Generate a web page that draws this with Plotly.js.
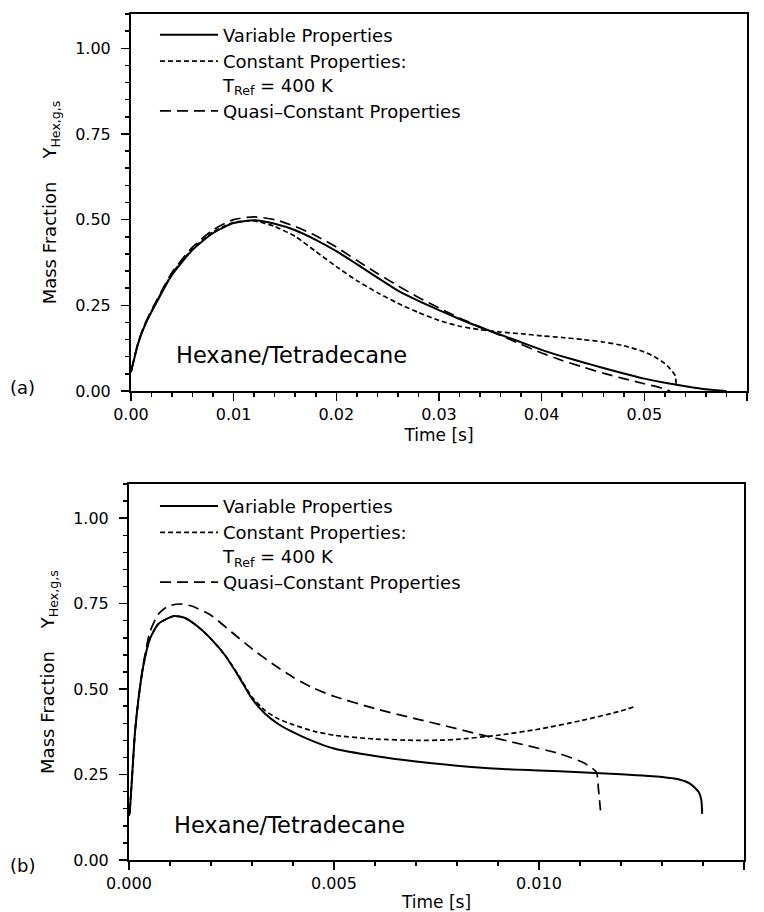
<!DOCTYPE html>
<html>
<head>
<meta charset="utf-8">
<script src="https://cdn.plot.ly/plotly-3.0.1.min.js"></script>
<style>html,body{margin:0;padding:0;background:#fff;}#chart{width:764px;height:912px;}</style>
</head>
<body>
<div id="chart"></div>
<script>
// ---- Panel (a): Hexane/Tetradecane, time in s ----
const tA_var = [0, 0.0007, 0.0013, 0.002, 0.0027, 0.004, 0.006, 0.008, 0.010, 0.012, 0.014, 0.016, 0.018, 0.020, 0.022, 0.024, 0.026, 0.028, 0.030, 0.032, 0.034, 0.036, 0.038, 0.040, 0.042, 0.044, 0.046, 0.048, 0.050, 0.052, 0.054, 0.056, 0.058];
const yA_var = [0.055, 0.139, 0.188, 0.231, 0.270, 0.339, 0.412, 0.461, 0.490, 0.498, 0.488, 0.469, 0.441, 0.408, 0.370, 0.331, 0.293, 0.263, 0.236, 0.210, 0.186, 0.164, 0.142, 0.120, 0.101, 0.084, 0.067, 0.051, 0.036, 0.024, 0.014, 0.005, 0.0];

const tA_const = [0, 0.0007, 0.0013, 0.002, 0.0027, 0.004, 0.006, 0.008, 0.010, 0.012, 0.014, 0.016, 0.018, 0.020, 0.022, 0.024, 0.026, 0.028, 0.030, 0.032, 0.034, 0.036, 0.038, 0.040, 0.042, 0.044, 0.046, 0.048, 0.050, 0.051, 0.052, 0.0525, 0.053, 0.0531];
const yA_const = [0.055, 0.140, 0.190, 0.233, 0.273, 0.342, 0.415, 0.464, 0.492, 0.496, 0.480, 0.451, 0.407, 0.363, 0.322, 0.287, 0.256, 0.229, 0.206, 0.189, 0.179, 0.172, 0.167, 0.161, 0.156, 0.150, 0.143, 0.132, 0.114, 0.100, 0.080, 0.065, 0.045, 0.020];

const tA_quasi = [0, 0.0007, 0.0013, 0.002, 0.0027, 0.004, 0.006, 0.008, 0.010, 0.012, 0.014, 0.016, 0.018, 0.020, 0.022, 0.024, 0.026, 0.028, 0.030, 0.032, 0.034, 0.036, 0.038, 0.040, 0.042, 0.044, 0.046, 0.048, 0.050, 0.052, 0.0525];
const yA_quasi = [0.055, 0.142, 0.192, 0.236, 0.276, 0.346, 0.420, 0.470, 0.500, 0.508, 0.500, 0.480, 0.453, 0.420, 0.381, 0.343, 0.307, 0.273, 0.242, 0.213, 0.187, 0.162, 0.136, 0.111, 0.089, 0.070, 0.052, 0.036, 0.021, 0.006, 0.0];

// ---- Panel (b) ----
const tB_var = [0, 0.000016, 0.000146, 0.00023, 0.00035, 0.00051, 0.00072, 0.0011, 0.00137, 0.00169, 0.002, 0.00234, 0.00267, 0.003, 0.00332, 0.00364, 0.004, 0.0045, 0.005, 0.006, 0.007, 0.008, 0.009, 0.010, 0.011, 0.012, 0.013, 0.0134, 0.0137, 0.0139, 0.01396, 0.01398];
const yB_var = [0.13, 0.14, 0.374, 0.470, 0.569, 0.647, 0.691, 0.714, 0.708, 0.682, 0.647, 0.599, 0.538, 0.472, 0.428, 0.398, 0.374, 0.347, 0.326, 0.304, 0.288, 0.276, 0.267, 0.262, 0.257, 0.251, 0.243, 0.236, 0.222, 0.198, 0.175, 0.135];

const tB_const = [0, 0.000016, 0.000146, 0.00023, 0.00035, 0.00051, 0.00072, 0.0011, 0.00137, 0.00169, 0.002, 0.00234, 0.00267, 0.003, 0.00332, 0.00364, 0.004, 0.0045, 0.005, 0.006, 0.007, 0.0077, 0.008, 0.009, 0.010, 0.011, 0.012, 0.01234];
const yB_const = [0.13, 0.14, 0.374, 0.470, 0.569, 0.647, 0.691, 0.714, 0.708, 0.682, 0.647, 0.600, 0.541, 0.477, 0.437, 0.413, 0.396, 0.377, 0.365, 0.354, 0.350, 0.351, 0.353, 0.365, 0.383, 0.407, 0.436, 0.449];

const tB_quasi = [0, 0.000016, 0.000146, 0.00023, 0.00035, 0.00051, 0.00072, 0.00096, 0.00124, 0.00153, 0.002, 0.0025, 0.003, 0.0035, 0.004, 0.0045, 0.005, 0.006, 0.007, 0.0077, 0.0086, 0.0096, 0.0105, 0.0111, 0.0114, 0.01145, 0.0115];
const yB_quasi = [0.13, 0.14, 0.374, 0.470, 0.575, 0.667, 0.720, 0.743, 0.749, 0.743, 0.716, 0.667, 0.618, 0.574, 0.535, 0.503, 0.479, 0.443, 0.413, 0.393, 0.366, 0.338, 0.311, 0.284, 0.257, 0.208, 0.145];

const seriesNames = ['Variable Properties', 'Constant Properties:<br>T<sub>Ref</sub> = 400 K', 'Quasi\u2013Constant Properties'];
const yTickVals = [0, 0.25, 0.5, 0.75, 1.0];
const panelLabels = ['(a)', '(b)'];
const substanceLabel = 'Hexane/Tetradecane';
const xTitle = 'Time [s]';
const yTitle = 'Mass Fraction\u00A0\u00A0\u00A0\u00A0Y<sub>Hex,g,s</sub>';

const FONT = 'DejaVu Sans, Arial, sans-serif';
const styles = [
  {color:'black', width:2, dash:'solid', shape:'spline', smoothing:0.6},
  {color:'black', width:1.7, dash:'5px,3px', shape:'spline', smoothing:0.6},
  {color:'black', width:1.7, dash:'11px,6px', shape:'spline', smoothing:0.6}
];

function tr(x, y, i, xa, ya, lg) {
  return {x:x, y:y, type:'scatter', mode:'lines', name:seriesNames[i], line:styles[i],
          xaxis:xa, yaxis:ya, legend:lg, hoverinfo:'skip'};
}
const data = [
  tr(tA_var, yA_var, 0, 'x', 'y', 'legend'),
  tr(tA_const, yA_const, 1, 'x', 'y', 'legend'),
  tr(tA_quasi, yA_quasi, 2, 'x', 'y', 'legend'),
  tr(tB_var, yB_var, 0, 'x2', 'y2', 'legend2'),
  tr(tB_const, yB_const, 1, 'x2', 'y2', 'legend2'),
  tr(tB_quasi, yB_quasi, 2, 'x2', 'y2', 'legend2')
];

function xax(domain, range, dtick, minor, fmt, anchor) {
  return {domain:domain, range:range, anchor:anchor, tick0:0, dtick:dtick, tickformat:fmt,
    ticks:'outside', ticklen:8, tickwidth:1.5, tickcolor:'black',
    minor:{dtick:minor, tick0:0, ticks:'outside', ticklen:4, tickwidth:1.5, tickcolor:'black', showgrid:false},
    showline:true, linewidth:2, linecolor:'black', mirror:true, showgrid:false, zeroline:false,
    tickfont:{family:FONT, size:16, color:'black'},
    title:{text:xTitle, font:{family:FONT, size:17, color:'black'}, standoff:6}};
}
function yax(domain, anchor) {
  return {domain:domain, range:[0, 1.1], anchor:anchor, tickvals:yTickVals, tickformat:'.2f',
    ticks:'outside', ticklen:8, tickwidth:1.5, tickcolor:'black', ticklabelstandoff:7,
    minor:{dtick:0.05, tick0:0, ticks:'outside', ticklen:4, tickwidth:1.5, tickcolor:'black', showgrid:false},
    showline:true, linewidth:2, linecolor:'black', mirror:true, showgrid:false, zeroline:false,
    tickfont:{family:FONT, size:16, color:'black'},
    title:{text:yTitle, font:{family:FONT, size:18, color:'black'}, standoff:14}};
}
function leg(y) {
  return {x:0.042, y:y, xanchor:'left', yanchor:'top', bgcolor:'rgba(0,0,0,0)', borderwidth:0,
    font:{family:FONT, size:18, color:'black'}, valign:'top', tracegroupgap:0, itemwidth:58};
}

const layout = {
  width:764, height:912,
  margin:{l:129, r:17, t:14, b:52},
  paper_bgcolor:'white', plot_bgcolor:'white',
  font:{family:FONT, size:16, color:'black'},
  showlegend:true,
  xaxis: xax([0.0032, 1.0], [0, 0.06], 0.01, 0.002, '.2f', 'y'),
  yaxis: yax([0.5544, 1.0], 'x'),
  xaxis2: xax([0, 0.9951], [0, 0.015], 0.005, 0.001, '.3f', 'y2'),
  yaxis2: yax([0, 0.4444], 'x2'),
  legend: leg(0.997),
  legend2: leg(0.44),
  annotations: [
    {text:substanceLabel, xref:'x', yref:'y', x:0.0042, y:0.104, xanchor:'left', yanchor:'middle', showarrow:false, font:{family:FONT, size:22.5, color:'black'}},
    {text:substanceLabel, xref:'x2', yref:'y2', x:0.00105, y:0.103, xanchor:'left', yanchor:'middle', showarrow:false, font:{family:FONT, size:22.5, color:'black'}},
    {text:panelLabels[0], xref:'paper', yref:'paper', x:-0.196, y:0.559, xanchor:'left', yanchor:'middle', showarrow:false, font:{family:FONT, size:18, color:'black'}},
    {text:panelLabels[1], xref:'paper', yref:'paper', x:-0.196, y:-0.006, xanchor:'left', yanchor:'middle', showarrow:false, font:{family:FONT, size:18, color:'black'}}
  ]
};

Plotly.newPlot('chart', data, layout, {staticPlot:true, displayModeBar:false});
</script>
</body>
</html>
